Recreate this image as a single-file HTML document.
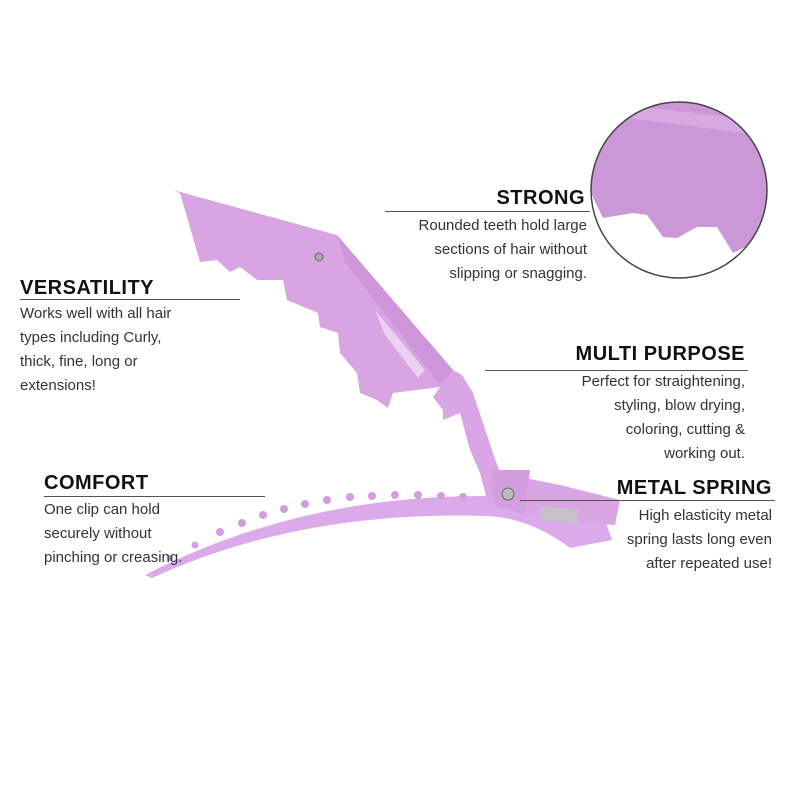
<!DOCTYPE html>
<html><head><meta charset="utf-8"><style>
body{margin:0;width:800px;height:800px;background:#fff;position:relative;overflow:hidden;font-family:"Liberation Sans",sans-serif;color:#222}
.h{position:absolute;font-weight:bold;font-size:20px;letter-spacing:0.5px;color:#111}
.b{position:absolute;font-size:15px;line-height:24px;color:#333}
.l{position:absolute;height:1px;background:#555}
.r{text-align:right}
</style></head><body>
<svg width="800" height="800" style="position:absolute;left:0;top:0">
<defs><clipPath id="c"><circle cx="679" cy="190" r="88"/></clipPath></defs>
<g clip-path="url(#c)">
<polygon points="580,90 800,90 800,200 760,240 733,253 717,227 697,227 677,238 663,237 647,215 633,213 603,218 588,187" fill="#cc97d6"/>
<polygon points="580,100 800,125 800,140 580,112" fill="#d7a9e0"/>
</g>
<circle cx="679" cy="190" r="88" fill="none" stroke="#444" stroke-width="1.5"/>
<!-- lower arm -->
<path d="M145,575 Q300,495 487,496 L520,496 L600,505 L612,540 L570,548 Q530,518 487,516 Q300,510 152,578 Z" fill="#dcaaea"/>
<g fill="#d29edf">
<circle cx="170" cy="558" r="3"/><circle cx="195" cy="545" r="3.5"/><circle cx="220" cy="532" r="4"/><circle cx="242" cy="523" r="4"/><circle cx="263" cy="515" r="4"/><circle cx="284" cy="509" r="4"/><circle cx="305" cy="504" r="4"/><circle cx="327" cy="500" r="4"/><circle cx="350" cy="497" r="4"/><circle cx="372" cy="496" r="4"/><circle cx="395" cy="495" r="4"/><circle cx="418" cy="495" r="4"/><circle cx="441" cy="496" r="4"/><circle cx="463" cy="497" r="4"/>
</g>
<!-- handle / pivot -->
<path d="M462,375 L473,393 L493,453 L500,473 L560,485 L620,500 L615,525 L560,520 L520,512 L487,500 L480,473 L470,450 L460,413 L443,420 L443,410 L433,397 L440,387 Z" fill="#d9a5e4"/>
<path d="M490,470 L530,470 L525,515 L495,505 Z" fill="#d39edf"/>
<rect x="540" y="508" width="38" height="14" fill="#c7c0c9" transform="rotate(8 560 515)"/>
<!-- upper jaw -->
<path d="M173,190 L337,235 L453,370 L462,375 L440,387 L393,393 L388,408 L377,400 L360,393 L357,373 L340,353 L338,333 L320,327 L318,313 L287,300 L283,280 L257,280 L240,267 L230,272 L217,260 L200,262 L180,193 Z" fill="#d9a4e2"/>
<path d="M337,235 L453,370 L440,385 L345,262 Z" fill="#cf95da"/>
<path d="M375,310 L425,370 L418,378 L385,335 Z" fill="#ecd0f1"/>
<circle cx="319" cy="257" r="4" fill="#aaa" stroke="#666"/>
<circle cx="508" cy="494" r="6" fill="#bbb" stroke="#666"/>
</svg>
<div class="h r" style="right:215px;top:187px">STRONG</div>
<div class="l" style="left:385px;top:211px;width:205px"></div>
<div class="b r" style="right:213px;top:214px">Rounded teeth hold large<br>sections of hair without<br>slipping or snagging.</div>
<div class="h" style="left:20px;top:277px">VERSATILITY</div>
<div class="l" style="left:20px;top:299px;width:220px"></div>
<div class="b" style="left:20px;top:302px">Works well with all hair<br>types including Curly,<br>thick, fine, long or<br>extensions!</div>
<div class="h r" style="right:55px;top:343px">MULTI PURPOSE</div>
<div class="l" style="left:485px;top:370px;width:263px"></div>
<div class="b r" style="right:55px;top:370px">Perfect for straightening,<br>styling, blow drying,<br>coloring, cutting &amp;<br>working out.</div>
<div class="h" style="left:44px;top:472px">COMFORT</div>
<div class="l" style="left:44px;top:496px;width:221px"></div>
<div class="b" style="left:44px;top:498px">One clip can hold<br>securely without<br>pinching or creasing.</div>
<div class="h r" style="right:28px;top:477px">METAL SPRING</div>
<div class="l" style="left:520px;top:500px;width:255px"></div>
<div class="b r" style="right:28px;top:504px">High elasticity metal<br>spring lasts long even<br>after repeated use!</div>
</body></html>
